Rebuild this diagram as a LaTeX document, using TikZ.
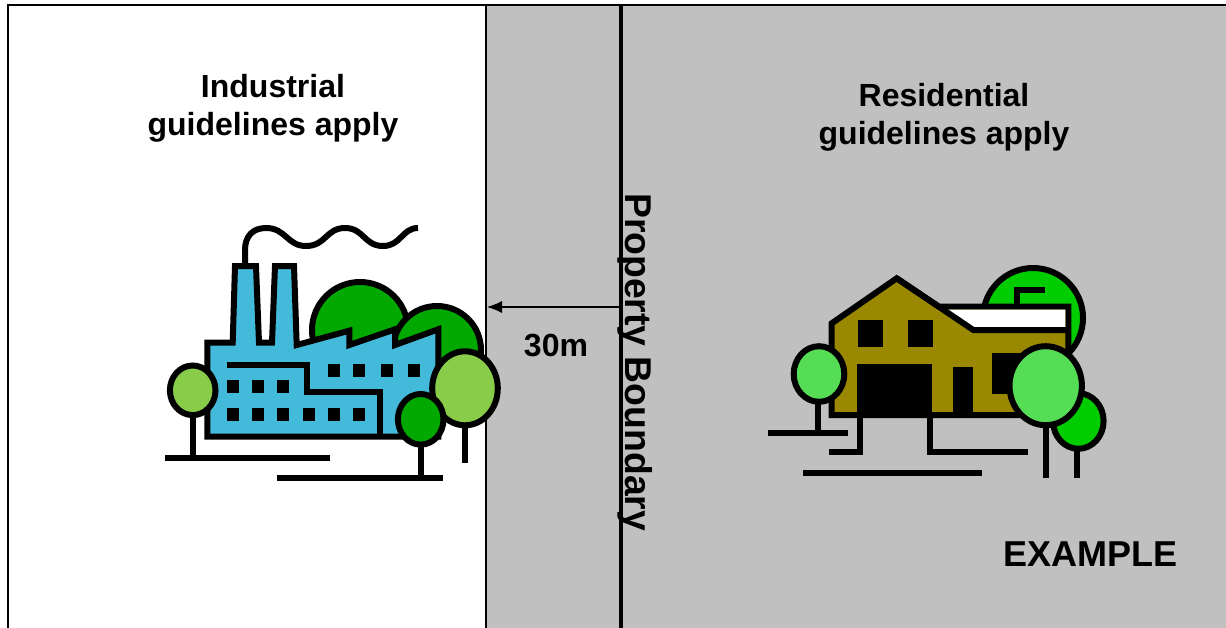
\documentclass[tikz,border=0pt]{standalone}
\usepackage{fontspec}
\setmainfont{Liberation Sans}
\usetikzlibrary{arrows.meta}
\definecolor{zonegray}{HTML}{C0C0C0}
\definecolor{factoryblue}{HTML}{44BADA}
\definecolor{bushgreen}{HTML}{00A800}
\definecolor{leafgreen}{HTML}{88CC4A}
\definecolor{housegreen}{HTML}{00CC00}
\definecolor{lightleaf}{HTML}{55DD55}
\definecolor{houseolive}{HTML}{998800}

\begin{document}
\begin{tikzpicture}
	[x=1pt, y=-1pt,
	icon/.style={draw=black, line width=6pt},
	txt/.style={font=\bfseries\fontsize{32}{38}\selectfont, align=center, inner sep=0pt}]
   \useasboundingbox (0,0) rectangle (1226,627);
   \begin{scope}
   \clip (0,0) rectangle (1226,627);
   \fill[zonegray] (486,5) rectangle (1240,640);
   \coordinate (frame_bl) at (8,640);
   \coordinate (frame_tl) at (8,5);
   \coordinate (frame_tr) at (1240,5);
   \coordinate (edge_t) at (486,5);
   \coordinate (edge_b) at (486,640);
   \coordinate (bnd_t) at (620.5,5);
   \coordinate (bnd_b) at (620.5,640);
   \draw[line width=2pt] (frame_bl) -- (frame_tl) -- (frame_tr);
   \draw[line width=1.5pt] (edge_t) -- (edge_b);
   \draw[line width=4pt] (bnd_t) -- (bnd_b);
   \end{scope}

   \node[txt] (ind) at (273,108.5) {Industrial\\guidelines apply};
   \node[txt] (res) at (944,117.5) {Residential\\guidelines apply};
   \node[txt, anchor=base] (dist) at (556,356) {30m};
   \node[txt, font=\bfseries\fontsize{37.3}{40}\selectfont, rotate=-90, anchor=base west] (pb) at (625.5,193) {Property Boundary};
   \node[txt, font=\bfseries\fontsize{36}{40}\selectfont, anchor=base] (ex) at (1090,566) {EXAMPLE};
   \coordinate (from_bnd) at (619,307);
   \coordinate (to_edge) at (487,307);
   \draw[-{Latex[length=15pt, width=12pt]}, line width=1.2pt] (from_bnd) -- (to_edge);

   % factory
   \filldraw[icon, fill=bushgreen] (360,330) circle[radius=48pt];
   \filldraw[icon, fill=bushgreen] (437,350) circle[radius=44pt];
   \draw[line width=6pt] (245,266) -- (245,250) .. controls (245,236) and (253,228) .. (266,228)
      .. controls (286,228) and (287,246) .. (306,246) .. controls (326,246) and (326,228) .. (345,228)
      .. controls (364,228) and (364,246) .. (383,246) .. controls (401,246) and (402,228) .. (418,228);
   \filldraw[icon, fill=factoryblue] (207.3,436.7) -- (207.3,342.7) -- (232.7,342.7) -- (235,266) -- (256,266)
      -- (259,342.7) -- (272,342.7) -- (275,266) -- (294,266) -- (296.7,345) -- (349.3,330.7) -- (349.3,345)
      -- (395,329.3) -- (395,345) -- (438.3,329.3) -- (438.3,436.7) -- cycle;
   \draw[icon] (227.3,365) -- (306.7,365) -- (306.7,391.7) -- (380,391.7) -- (380,436.7);
   \foreach \wx in {328.3,353.3,380.7,408.3}
      \fill (\wx,364) rectangle ++(12,12.7);
   \foreach \wx in {227.3,252,277.3}
      \fill (\wx,380) rectangle ++(12,12.7);
   \foreach \wx in {227.3,252,277.3,302.7,327.7,353.3}
      \fill (\wx,408.3) rectangle ++(12,12.4);
   \filldraw[icon, fill=leafgreen] (192.7,390.3) ellipse[x radius=22.8pt, y radius=24.8pt];
   \draw[icon] (192.7,415) -- (192.7,456.7);
   \draw[icon] (165,458.3) -- (330,458.3);
   \filldraw[icon, fill=leafgreen] (465,388.3) ellipse[x radius=32.8pt, y radius=37pt];
   \draw[icon] (465,425) -- (465,463.3);
   \filldraw[icon, fill=bushgreen] (420.7,419.3) ellipse[x radius=22.8pt, y radius=25.3pt];
   \draw[icon] (420.7,444.6) -- (420.7,475);
   \draw[icon] (276.7,478.3) -- (443.3,478.3);

   % house
   \filldraw[icon, fill=housegreen] (1033,318) circle[radius=50pt];
   \draw[icon] (1016.7,307) -- (1016.7,290) -- (1045,290);
   \filldraw[icon, fill=houseolive] (831.7,415) -- (831.7,323.3) -- (896.7,278.3) -- (939,306.7)
      -- (1068.3,306.7) -- (1068.3,415) -- cycle;
   \fill[white] (946,309.7) -- (1065.3,309.7) -- (1065.3,330) -- (973.3,330) -- cycle;
   \draw[icon] (896.7,278.3) -- (973.3,330) -- (1068.3,330);
   \fill (857.7,320) rectangle (883.3,347.3);
   \fill (907.7,320) rectangle (932.7,347.3);
   \fill (856.7,364) rectangle (931.7,416.7);
   \fill (952.7,366.7) rectangle (973.3,416.7);
   \fill (991.7,352.7) rectangle (1020,394);
   \draw[icon] (860.3,416) -- (860.3,451.7) -- (829,451.7);
   \draw[icon] (929.7,416) -- (929.7,451.7) -- (1028.3,451.7);
   \draw[icon] (768.3,433.3) -- (848.3,433.3);
   \draw[icon] (803.3,473.3) -- (981.7,473.3);
   \filldraw[icon, fill=housegreen] (1078.3,421) ellipse[x radius=25.3pt, y radius=27.8pt];
   \draw[icon] (1077.3,448.8) -- (1077.3,478.3);
   \filldraw[icon, fill=lightleaf] (1045.7,385.7) ellipse[x radius=36.2pt, y radius=39.5pt];
   \draw[icon] (1046,425.2) -- (1046,478.3);
   \filldraw[icon, fill=lightleaf] (819,374) ellipse[x radius=25.3pt, y radius=27.8pt];
   \draw[icon] (818.3,401.8) -- (818.3,433.3);
\end{tikzpicture}
\end{document}
